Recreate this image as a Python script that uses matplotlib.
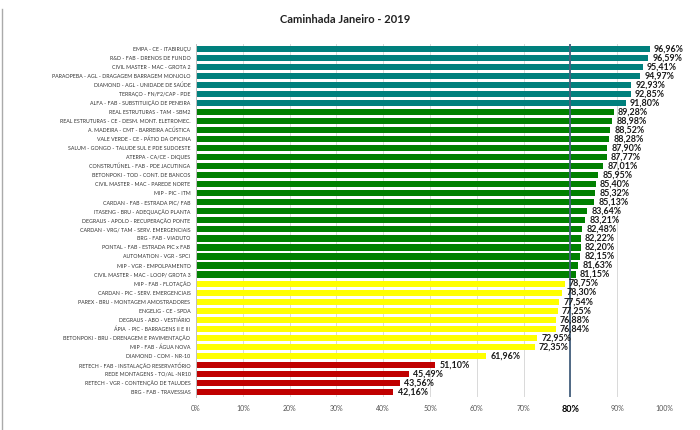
import matplotlib
matplotlib.use('Agg')
import matplotlib.pyplot as plt
import numpy as np

plt.rcParams['font.family'] = ['Lato', 'DejaVu Sans']

# dados da caminhada (de cima para baixo)
obras = [
    'EMPA - CE - ITABIRUÇU',
    'R&D - FAB - DRENOS DE FUNDO',
    'CIVIL MASTER - MAC - GROTA 2',
    'PARAOPEBA - AGL - DRAGAGEM BARRAGEM MONJOLO',
    'DIAMOND - AGL - UNIDADE DE SAÚDE',
    'TERRAÇO - FN/F2/CAP - PDE',
    'ALFA - FAB - SUBSTITUIÇÃO DE PENEIRA',
    'REAL ESTRUTURAS - TAM - SBM2',
    'REAL ESTRUTURAS - CE - DESM. MONT. ELETROMEC.',
    'A. MADEIRA - CMT - BARREIRA ACÚSTICA',
    'VALE VERDE - CE - PÁTIO DA OFICINA',
    'SALUM - GONGO - TALUDE SUL E PDE SUDOESTE',
    'ATERPA - CA/CE - DIQUES',
    'CONSTRUTÚNEL - FAB - PDE JACUTINGA',
    'BETONPOKI - TOD - CONT. DE BANCOS',
    'CIVIL MASTER - MAC - PAREDE NORTE',
    'MIP - PIC - ITM',
    'CARDAN - FAB - ESTRADA PIC/ FAB',
    'ITASENG - BRU - ADEQUAÇÃO PLANTA',
    'DEGRAUS - APOLO - RECUPERAÇÃO PONTE',
    'CARDAN - VRG/ TAM - SERV. EMERGENCIAIS',
    'BRG - FAB - VIADUTO',
    'PONTAL - FAB - ESTRADA PIC x FAB',
    'AUTOMATION - VGR - SPCI',
    'MIP - VGR - EMPOLPAMENTO',
    'CIVIL MASTER - MAC - LOOP/ GROTA 3',
    'MIP - FAB - FLOTAÇÃO',
    'CARDAN - PIC - SERV. EMERGENCIAIS',
    'PAREX - BRU - MONTAGEM AMOSTRADORES',
    'ENGELIG - CE - SPDA',
    'DEGRAUS - ABO - VESTIÁRIO',
    'ÁPIA  - PIC - BARRAGENS II E III',
    'BETONPOKI - BRU - DRENAGEM E PAVIMENTAÇÃO',
    'MIP - FAB - ÁGUA NOVA',
    'DIAMOND - COM - NR-10',
    'RETECH - FAB - INSTALAÇÃO RESERVATÓRIO',
    'REDE MONTAGENS - TO/AL -NR10',
    'RETECH - VGR - CONTENÇÃO DE TALUDES',
    'BRG - FAB - TRAVESSIAS',
]
notas = [96.96, 96.59, 95.41, 94.97, 92.93, 92.85, 91.80,
         89.28, 88.98, 88.52, 88.28, 87.90, 87.77, 87.01, 85.95, 85.40,
         85.32, 85.13, 83.64, 83.21, 82.48, 82.22, 82.20, 82.15, 81.63, 81.15,
         78.75, 78.30, 77.54, 77.25, 76.88, 76.84, 72.95, 72.35, 61.96,
         51.10, 45.49, 43.56, 42.16]
meta = 80

def cor(v):
    if v >= 90:
        return '#00807D'
    if v >= meta:
        return '#008000'
    if v >= 60:
        return '#FFFF00'
    return '#C00000'

cores = [cor(v) for v in notas]
y = np.arange(len(obras))

fig = plt.figure(figsize=(7, 4.3), dpi=100)
ax = fig.add_axes([0.28, 0.077, 0.6686, 0.821])

ax.barh(y, notas, height=0.68, color=cores, zorder=2)
ax.set_ylim(len(obras) - 0.45, -0.55)
ax.set_xlim(0, 100)

for yi, v in zip(y, notas):
    ax.text(v + 0.9, yi, ('%.2f%%' % v).replace('.', ','), va='center', ha='left',
            fontsize=6.4, fontweight='bold', color='#1a1a1a', zorder=4)

ax.axvline(meta, color='#44607E', lw=1.3, zorder=3)

ax.set_xticks(np.arange(0, 101, 10))
ax.set_xticklabels(['%d%%' % t for t in range(0, 101, 10)], fontsize=5, color='#555555')
ax.get_xticklabels()[8].set_fontweight('bold')
ax.get_xticklabels()[8].set_color('black')
ax.get_xticklabels()[8].set_fontsize(6.5)
ax.tick_params(axis='x', length=0, pad=6)
ax.set_yticks(y)
ax.set_yticklabels(obras, fontsize=3.8, color='#333333')
ax.tick_params(axis='y', length=0, pad=4)

ax.grid(axis='x', color='#d9d9d9', lw=0.7, zorder=0)
for s in ['top', 'right', 'bottom']:
    ax.spines[s].set_visible(False)
ax.spines['left'].set_color('#bfbfbf')
ax.spines['left'].set_linewidth(0.7)

fig.text(0.493, 0.955, 'Caminhada Janeiro - 2019', ha='center', va='center',
         fontsize=8, fontweight='bold', color='#222222')
fig.add_artist(plt.Line2D([0.003, 0.003], [0.0, 0.98], color='#aaaaaa', lw=1))

fig.savefig('out.png', dpi=100)
